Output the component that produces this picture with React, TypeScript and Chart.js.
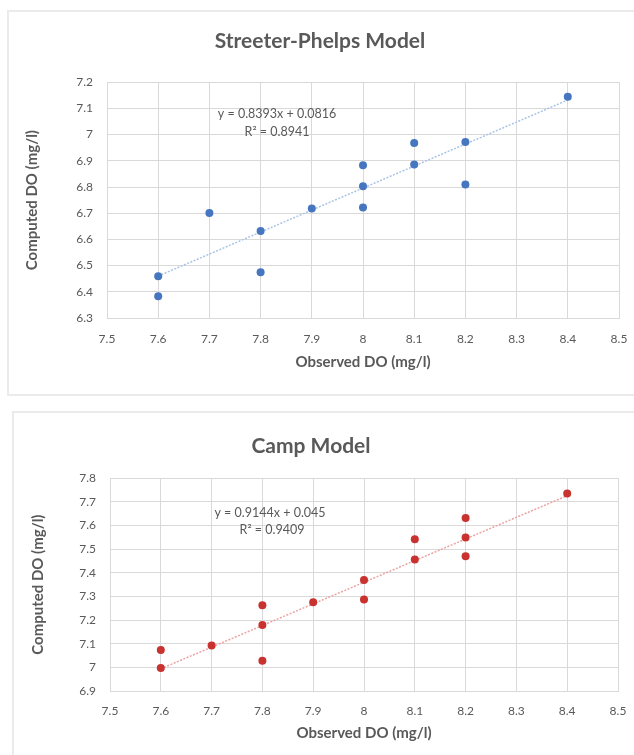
import React, { useEffect, useRef } from 'react';
import { Chart, registerables } from 'chart.js';

Chart.register(...registerables);

// ---------- data ----------
const xTickValues = [7.5, 7.6, 7.7, 7.8, 7.9, 8.0, 8.1, 8.2, 8.3, 8.4, 8.5];
const xTickLabels = ['7.5', '7.6', '7.7', '7.8', '7.9', '8', '8.1', '8.2', '8.3', '8.4', '8.5'];

const spYTickValues = [6.3, 6.4, 6.5, 6.6, 6.7, 6.8, 6.9, 7.0, 7.1, 7.2];
const spYTickLabels = ['6.3', '6.4', '6.5', '6.6', '6.7', '6.8', '6.9', '7', '7.1', '7.2'];

const campYTickValues = [6.9, 7.0, 7.1, 7.2, 7.3, 7.4, 7.5, 7.6, 7.7, 7.8];
const campYTickLabels = ['6.9', '7', '7.1', '7.2', '7.3', '7.4', '7.5', '7.6', '7.7', '7.8'];

const spObserved = [7.6, 7.6, 7.7, 7.8, 7.8, 7.9, 8.0, 8.0, 8.0, 8.1, 8.1, 8.2, 8.2, 8.4];
const spComputed = [6.459, 6.383, 6.701, 6.632, 6.475, 6.718, 6.883, 6.803, 6.722, 6.968, 6.886, 6.972, 6.81, 7.144];
const spTrendX = [7.6, 8.4];
const spTrendY = [6.46, 7.132];
const spEquation = 'y = 0.8393x + 0.0816';
const spR2 = 'R² = 0.8941';

const campObserved = [7.6, 7.6, 7.7, 7.8, 7.8, 7.8, 7.9, 8.0, 8.0, 8.1, 8.1, 8.2, 8.2, 8.2, 8.4];
const campComputed = [6.997, 7.073, 7.092, 7.263, 7.179, 7.028, 7.275, 7.369, 7.287, 7.542, 7.456, 7.632, 7.549, 7.47, 7.735];
const campTrendX = [7.6, 8.4];
const campTrendY = [6.994, 7.726];
const campEquation = 'y = 0.9144x + 0.045';
const campR2 = 'R² = 0.9409';

const FONT = 'Lato, "Open Sans", "DejaVu Sans", sans-serif';
const TEXT = '#595959';
const GRID = '#d9d9d9';

type PanelProps = {
  title: string;
  xs: number[];
  ys: number[];
  trendX: number[];
  trendY: number[];
  yTickValues: number[];
  yTickLabels: string[];
  pointColor: string;
  trendColor: string;
  eqLines: { text: string; x: number; y: number }[];
  layout: {
    width: number;
    height: number;
    yAxisWidth: number;
    xAxisHeight: number;
    titlePadTop: number;
    titlePadBottom: number;
    yTitlePad: number;
    xTickPad: number;
    padLeft: number;
    padRight: number;
    padBottom: number;
  };
};

function ScatterPanel(p: PanelProps) {
  const ref = useRef<HTMLCanvasElement | null>(null);
  useEffect(() => {
    if (!ref.current) return;
    const L = p.layout;
    const eqPlugin = {
      id: 'eqText',
      afterDatasetsDraw(chart: any) {
        const { ctx, scales } = chart;
        ctx.save();
        ctx.font = `12.5px ${FONT}`;
        ctx.fillStyle = TEXT;
        ctx.textAlign = 'center';
        ctx.textBaseline = 'middle';
        p.eqLines.forEach((l) => {
          ctx.fillText(l.text, scales.x.getPixelForValue(l.x), scales.y.getPixelForValue(l.y));
        });
        ctx.restore();
      },
    };
    const chart = new Chart(ref.current, {
      type: 'scatter',
      data: {
        datasets: [
          {
            label: 'points',
            data: p.xs.map((x, i) => ({ x, y: p.ys[i] })),
            backgroundColor: p.pointColor,
            borderColor: p.pointColor,
            borderWidth: 0,
            pointRadius: 4,
          },
          {
            label: 'trend',
            type: 'line',
            data: p.trendX.map((x, i) => ({ x, y: p.trendY[i] })),
            borderColor: p.trendColor,
            borderWidth: 1.5,
            borderDash: [2, 1.5],
            pointRadius: 0,
            fill: false,
          } as any,
        ],
      },
      options: {
        animation: false,
        responsive: false,
        layout: { padding: { left: L.padLeft, top: 0, right: L.padRight, bottom: L.padBottom } },
        plugins: {
          legend: { display: false },
          tooltip: { enabled: false },
          title: {
            display: true,
            text: p.title,
            color: TEXT,
            font: { family: FONT, size: 21, weight: 'bold', lineHeight: 1.2 },
            padding: { top: L.titlePadTop, bottom: L.titlePadBottom },
          },
        },
        scales: {
          x: {
            type: 'linear',
            min: 7.5,
            max: 8.5,
            afterBuildTicks: (s: any) => {
              s.ticks = xTickValues.map((v) => ({ value: v }));
            },
            afterFit: (s: any) => {
              s.height = L.xAxisHeight;
              s.paddingLeft = 0;
              s.paddingRight = 0;
            },
            ticks: {
              color: TEXT,
              font: { family: FONT, size: 12 },
              padding: L.xTickPad,
              maxRotation: 0,
              autoSkip: false,
              callback: (_v: any, i: number) => xTickLabels[i],
            },
            grid: { color: GRID, drawTicks: false, lineWidth: 1 },
            border: { display: true, color: GRID },
            title: {
              display: true,
              text: 'Observed DO (mg/l)',
              color: TEXT,
              font: { family: FONT, size: 15, weight: 'bold', lineHeight: 1.2 },
              padding: { top: 0, bottom: 0 },
            },
          },
          y: {
            type: 'linear',
            min: p.yTickValues[0],
            max: p.yTickValues[p.yTickValues.length - 1],
            afterBuildTicks: (s: any) => {
              s.ticks = p.yTickValues.map((v) => ({ value: v }));
            },
            afterFit: (s: any) => {
              s.width = L.yAxisWidth;
              s.paddingTop = 0;
              s.paddingBottom = 0;
            },
            ticks: {
              color: TEXT,
              font: { family: FONT, size: 12 },
              padding: 14,
              autoSkip: false,
              callback: (_v: any, i: number) => p.yTickLabels[i],
            },
            grid: { color: GRID, drawTicks: false, lineWidth: 1 },
            border: { display: true, color: GRID },
            title: {
              display: true,
              text: 'Computed DO (mg/l)',
              color: TEXT,
              font: { family: FONT, size: 15, weight: 'bold', lineHeight: 1.2 },
              padding: { top: L.yTitlePad, bottom: 0 },
            },
          },
        },
      } as any,
      plugins: [eqPlugin],
    });
    return () => chart.destroy();
  }, []);
  return (
    <canvas
      ref={ref}
      width={p.layout.width}
      height={p.layout.height}
      style={{ display: 'block', width: p.layout.width, height: p.layout.height }}
    />
  );
}

export default function App() {
  return (
    <div
      style={{
        position: 'absolute',
        left: 0,
        top: 0,
        width: 634,
        height: 755,
        overflow: 'hidden',
        background: '#ffffff',
      }}
    >
      <div
        style={{
          position: 'absolute',
          left: 7,
          top: 10,
          width: 660,
          height: 386,
          border: '2px solid #ebebeb',
          boxSizing: 'border-box',
        }}
      />
      <div
        style={{
          position: 'absolute',
          left: 12,
          top: 411,
          width: 660,
          height: 400,
          border: '2px solid #ebebeb',
          boxSizing: 'border-box',
        }}
      />
      <div style={{ position: 'absolute', left: 0, top: 0 }}>
        <ScatterPanel
          title="Streeter-Phelps Model"
          xs={spObserved}
          ys={spComputed}
          trendX={spTrendX}
          trendY={spTrendY}
          yTickValues={spYTickValues}
          yTickLabels={spYTickLabels}
          pointColor="#4676c0"
          trendColor="#a9c4e6"
          eqLines={[
            { text: spEquation, x: 7.832, y: 7.078 },
            { text: spR2, x: 7.832, y: 7.009 },
          ]}
          layout={{
            width: 634,
            height: 400,
            yAxisWidth: 86,
            xAxisHeight: 53,
            titlePadTop: 29,
            titlePadBottom: 28,
            yTitlePad: 2,
            xTickPad: 14,
            padLeft: 21,
            padRight: 15,
            padBottom: 29,
          }}
        />
      </div>
      <div style={{ position: 'absolute', left: 0, top: 400 }}>
        <ScatterPanel
          title="Camp Model"
          xs={campObserved}
          ys={campComputed}
          trendX={campTrendX}
          trendY={campTrendY}
          yTickValues={campYTickValues}
          yTickLabels={campYTickLabels}
          pointColor="#c8322f"
          trendColor="#eba3a3"
          eqLines={[
            { text: campEquation, x: 7.815, y: 7.652 },
            { text: campR2, x: 7.819, y: 7.58 },
          ]}
          layout={{
            width: 634,
            height: 355,
            yAxisWidth: 106,
            xAxisHeight: 51,
            titlePadTop: 34,
            titlePadBottom: 19,
            yTitlePad: 25,
            xTickPad: 13,
            padLeft: 4,
            padRight: 16,
            padBottom: 13,
          }}
        />
      </div>
    </div>
  );
}
